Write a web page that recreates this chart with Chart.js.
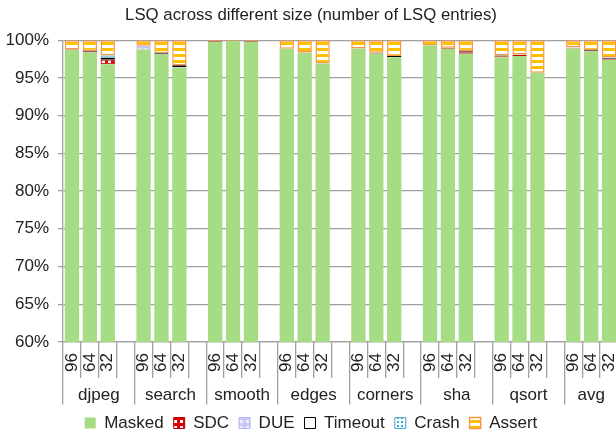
<!DOCTYPE html>
<html>
<head>
<meta charset="utf-8">
<script src="https://cdn.jsdelivr.net/npm/chart.js@4/dist/chart.umd.min.js"></script>
<style>
html,body{margin:0;padding:0;overflow:hidden;background:#fff}
</style>
</head>
<body>
<canvas id="mycanvas" width="618" height="436"></canvas>
<script>
// benchmarks and LSQ sizes
var groups = ['djpeg', 'search', 'smooth', 'edges', 'corners', 'sha', 'qsort', 'avg'];
var sizes = ['96', '64', '32'];

// percentages, 3 values (96, 64, 32) per benchmark
var masked  = [98.7, 98.35, 96.8,  98.75, 98.1, 96.35,  99.8, 99.88, 99.8,  98.85, 98.3, 96.9,
               98.9, 98.2, 97.75,  99.3, 98.85, 98.2,  97.75, 97.9, 95.65,  98.9, 98.5, 97.4];
var sdc     = [0.05, 0.1, 0.6,  0, 0, 0.02,  0.1, 0, 0.08,  0, 0.02, 0.02,
               0, 0.02, 0.02,  0, 0.15, 0.2,  0.12, 0.15, 0.02,  0.1, 0.05, 0.1];
var due     = [0, 0, 0.02,  0.5, 0, 0.05,  0, 0, 0,  0.02, 0, 0,
               0, 0, 0,  0, 0, 0.05,  0, 0, 0,  0.05, 0.02, 0.05];
var timeout = [0, 0.1, 0.25,  0, 0.15, 0.25,  0, 0, 0,  0, 0.05, 0.03,
               0, 0.12, 0.12,  0, 0, 0.1,  0.1, 0.05, 0.02,  0.02, 0.1, 0.12];
var crash   = [0, 0, 0.3,  0, 0, 0,  0, 0, 0,  0, 0, 0,
               0, 0, 0,  0, 0, 0,  0, 0, 0,  0, 0, 0.02];
var assert  = [1.25, 1.45, 2.03,  0.75, 1.75, 3.33,  0.1, 0.12, 0.12,  1.13, 1.63, 3.05,
               1.1, 1.66, 2.11,  0.7, 1.0, 1.45,  2.03, 1.9, 4.31,  0.93, 1.33, 2.31];

// each benchmark takes 3 bars and one empty slot (the last one is cut off)
var labels = [];
for (var g = 0; g < groups.length; g++) {
	for (var s = 0; s < sizes.length; s++) labels.push(sizes[s]);
	if (g < groups.length - 1) labels.push('');
}
function spread(arr) {
	var out = [];
	for (var g = 0; g < groups.length; g++) {
		for (var s = 0; s < sizes.length; s++) out.push(arr[g * 3 + s]);
		if (g < groups.length - 1) out.push(null);
	}
	return out;
}

// ticks of the benchmark axis: boundaries get a line, centres get the name
var groupTicks = [];
for (var g = 0; g < groups.length; g++) {
	var start = g * 4 - 0.5;
	groupTicks.push({v: start, name: ''});
	var end = Math.min(start + 4, labels.length - 0.5);
	groupTicks.push({v: (start + end) / 2, name: groups[g]});
}

function pattern(draw, w, h) {
	var c = document.createElement('canvas');
	c.width = w; c.height = h;
	var x = c.getContext('2d');
	draw(x);
	return x.createPattern(c, 'repeat');
}
var assertFill = pattern(function(x) {
	x.fillStyle = '#ffffff'; x.fillRect(0, 0, 6, 6);
	x.fillStyle = '#ffc000'; x.fillRect(0, 0, 6, 3);
}, 6, 6);
var sdcFill = pattern(function(x) {
	x.fillStyle = '#e00000'; x.fillRect(0, 0, 6, 6);
	x.fillStyle = '#ffffff'; x.fillRect(0, 0, 3, 3);
}, 6, 6);
var dueFill = pattern(function(x) {
	x.fillStyle = '#c8c8f4'; x.fillRect(0, 0, 6, 6);
	x.fillStyle = '#eeeeff'; x.fillRect(0, 0, 3, 3);
}, 6, 6);
var crashFill = pattern(function(x) {
	x.fillStyle = '#ffffff'; x.fillRect(0, 0, 4, 4);
	x.fillStyle = '#2ea8d8'; x.fillRect(1, 1, 2, 2);
}, 4, 4);

Chart.defaults.font.family = 'Arial, "Liberation Sans", sans-serif';
Chart.defaults.color = '#222';

var gridGray = '#a0a0a0';

var ctx = document.getElementById('mycanvas');
var barGraph = new Chart(ctx, {
	type: 'bar',
	data: {
		labels: labels,
		datasets: [
			{label: 'Masked', data: spread(masked), backgroundColor: '#a6dc84', borderWidth: 0},
			{label: 'SDC', data: spread(sdc), backgroundColor: sdcFill, borderColor: '#c00000', borderWidth: 1},
			{label: 'DUE', data: spread(due), backgroundColor: dueFill, borderColor: '#b4b4ee', borderWidth: 1},
			{label: 'Timeout', data: spread(timeout), backgroundColor: '#ffffff', borderColor: '#000000', borderWidth: 1},
			{label: 'Crash', data: spread(crash), backgroundColor: crashFill, borderColor: '#4bacc6', borderWidth: 1},
			{label: 'Assert', data: spread(assert), backgroundColor: assertFill, borderColor: '#f79646', borderWidth: 1.5}
		]
	},
	options: {
		responsive: false,
		animation: false,
		barPercentage: 0.8,
		categoryPercentage: 1.0,
		datasets: {bar: {borderSkipped: false}},
		layout: {padding: {left: 4, right: 0, top: 0, bottom: -5.5}},
		plugins: {
			tooltip: {enabled: false},
			title: {
				display: true,
				text: 'LSQ across different size (number of LSQ entries)',
				font: {size: 16.8, weight: 'normal'},
				color: '#222',
				padding: {top: 5, bottom: 15}
			},
			legend: {
				position: 'bottom',
				labels: {boxWidth: 11, boxHeight: 11, font: {size: 17}, padding: 10, color: '#222'}
			}
		},
		scales: {
			y: {
				stacked: true,
				min: 60,
				max: 100,
				afterFit: function(scale) { scale.width = 59; },
				ticks: {stepSize: 5, font: {size: 17}, padding: 9, callback: function(v) { return v + '%'; }},
				grid: {color: gridGray, lineWidth: 1.3, tickLength: 5},
				border: {color: gridGray, width: 1.3}
			},
			x: {
				stacked: true,
				afterFit: function(scale) { scale.height = 36; },
				ticks: {autoSkip: false, minRotation: 90, maxRotation: 90, font: {size: 17}, padding: -25},
				grid: {drawOnChartArea: false, tickLength: 36, color: gridGray, lineWidth: 1.3},
				border: {color: gridGray, width: 1.3}
			},
			x2: {
				type: 'linear',
				position: 'bottom',
				offset: false,
				bounds: 'data',
				min: -0.5,
				max: labels.length - 0.5,
				afterBuildTicks: function(scale) {
					scale.min = -0.5;
					scale.max = labels.length - 0.5;
					scale.ticks = groupTicks.map(function(t) { return {value: t.v}; });
				},
				afterFit: function(scale) { scale.height = 26.5; },
				ticks: {
					autoSkip: false, maxRotation: 0, minRotation: 0, font: {size: 17}, padding: -19.5,
					callback: function(v) {
						for (var i = 0; i < groupTicks.length; i++) if (groupTicks[i].v === v) return groupTicks[i].name;
						return '';
					}
				},
				grid: {
					offset: false, drawOnChartArea: false, tickLength: 26.5, lineWidth: 1.3,
					color: function(c) { return c.tick && ((c.tick.value + 0.5) % 4 === 0) ? gridGray : 'rgba(0,0,0,0)'; }
				},
				border: {display: false}
			}
		}
	}
});
</script>
</body>
</html>
